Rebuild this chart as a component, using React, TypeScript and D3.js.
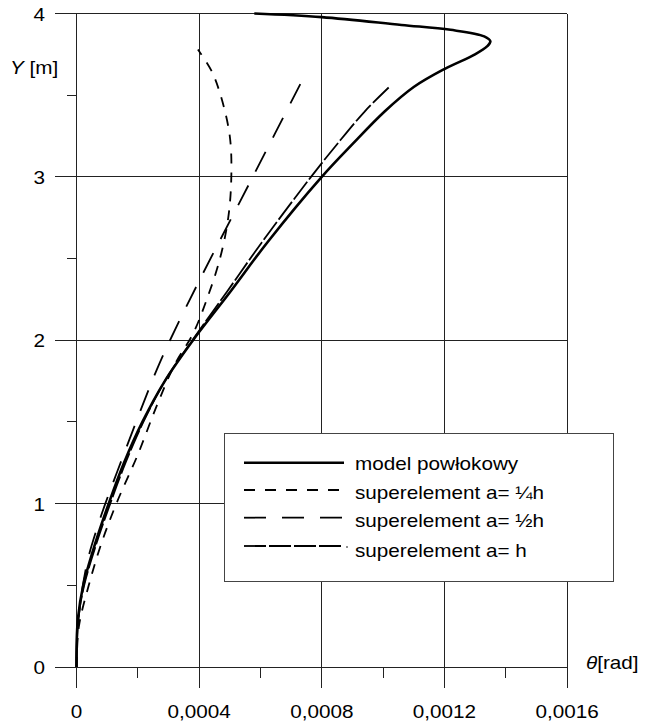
import React from 'react';
import * as d3 from 'd3';

// rotation θ [rad] against height Y [m]
const yModel = [0, 0.15, 0.3, 0.5, 0.75, 1.0, 1.25, 1.5, 1.75, 2.0, 2.3, 2.6, 3.0, 3.2, 3.4, 3.55, 3.66, 3.75, 3.8, 3.83, 3.86, 3.9, 3.93, 3.978, 4.0];
const thModel = [0, 0.0000005, 0.000005, 0.000022, 0.00006, 0.000105, 0.000155, 0.000215, 0.000288, 0.00038, 0.000503, 0.000623, 0.0008, 0.0009, 0.001005, 0.0011, 0.0012, 0.0013, 0.00134, 0.00135, 0.00133, 0.00122, 0.00106, 0.0008, 0.00058];

const yQuarter = [0, 0.25, 0.5, 0.75, 1.0, 1.3, 1.6, 1.85, 2.04, 2.25, 2.5, 2.75, 3.0, 3.25, 3.5, 3.65, 3.78];
const thQuarter = [0, 0.000008, 0.00004, 0.00008, 0.00013, 0.0002, 0.000262, 0.00032, 0.00038, 0.000425, 0.000468, 0.000495, 0.000505, 0.0005, 0.00047, 0.00044, 0.000396];

const yHalf = [0, 0.2, 0.4, 0.65, 0.85, 1.0, 1.35, 1.6, 1.82, 2.0, 2.4, 3.0, 3.645];
const thHalf = [0, 0.000003, 0.000013, 0.000036, 0.000067, 0.000094, 0.000164, 0.000215, 0.000262, 0.000305, 0.00041, 0.000575, 0.000751];

const yFull = [0, 0.3, 0.5, 0.75, 1.0, 1.25, 1.5, 1.75, 2.0, 2.3, 2.6, 3.0, 3.2, 3.4, 3.55];
const thFull = [0, 0.000006, 0.000025, 0.000064, 0.00011, 0.00016, 0.000218, 0.000288, 0.000378, 0.000492, 0.000605, 0.000765, 0.00085, 0.00094, 0.00102];

const xTicks = [0, 0.0004, 0.0008, 0.0012, 0.0016];
const xTickLabels = ['0', '0,0004', '0,0008', '0,0012', '0,0016'];
const xMinor = [0.0002, 0.0006, 0.001, 0.0014];
const yTicks = [0, 1, 2, 3, 4];
const yMinor = [0.5, 1.5, 2.5, 3.5];

const legendLabels = ['model powłokowy', 'superelement a= ¼h', 'superelement a= ½h', 'superelement a= h'];

const FONT = 'Liberation Sans, Arial, sans-serif';
const SX = 1.15; // the source text is a little wider than Arial

const App = () => {
  const width = 650;
  const height = 723;

  const x = d3.scaleLinear().domain([0, 0.0016]).range([76.5, 567]);
  const y = d3.scaleLinear().domain([0, 4]).range([667, 13.5]);

  const line = d3
    .line<[number, number]>()
    .x((d) => x(d[0]))
    .y((d) => y(d[1]))
    .curve(d3.curveCatmullRom.alpha(0.5));

  const series = [
    { th: thModel, ys: yModel, dash: null, w: 2.6 },
    { th: thQuarter, ys: yQuarter, dash: '10,9', w: 1.8 },
    { th: thHalf, ys: yHalf, dash: '22,16', w: 1.8 },
    { th: thFull, ys: yFull, dash: '22,3', w: 1.8 },
  ];

  const legendLineY = [462.7, 490, 517.7, 546];
  const legendTextY = [470, 498.5, 526.5, 556.5];

  const txt = (s: string, tx: number, ty: number, anchor: string, key?: string) => (
    <text
      key={key}
      transform={`translate(${tx},${ty}) scale(${SX},1)`}
      textAnchor={anchor}
      fontFamily={FONT}
      fontSize={18}
      fill="#000"
    >
      {s}
    </text>
  );

  return (
    <svg width={width} height={height} style={{ position: 'absolute', left: 0, top: 0, background: '#fff' }}>
      <g shapeRendering="crispEdges" stroke="#222" strokeWidth={1}>
        {/* vertical grid + major x ticks */}
        {xTicks.map((t) => (
          <line key={'vx' + t} x1={x(t)} x2={x(t)} y1={y(4)} y2={688} />
        ))}
        {/* horizontal grid + major y ticks */}
        {yTicks.map((t) => (
          <line key={'hy' + t} x1={55} x2={x(0.0016)} y1={y(t)} y2={y(t)} />
        ))}
        {xMinor.map((t) => (
          <line key={'mx' + t} x1={x(t)} x2={x(t)} y1={y(0)} y2={678} />
        ))}
        {yMinor.map((t) => (
          <line key={'my' + t} x1={67} x2={x(0)} y1={y(t)} y2={y(t)} />
        ))}
      </g>

      {series.map((s, i) => (
        <path
          key={'s' + i}
          d={line(s.th.map((v, j) => [v, s.ys[j]] as [number, number])) || ''}
          fill="none"
          stroke="#000"
          strokeWidth={s.w}
          strokeDasharray={s.dash || undefined}
          strokeLinejoin="round"
        />
      ))}

      {/* legend */}
      <rect x={224} y={433.5} width={389} height={148} fill="#fff" stroke="#444" strokeWidth={1} shapeRendering="crispEdges" />
      {series.map((s, i) => (
        <g key={'lg' + i}>
          <line
            x1={244}
            x2={344}
            y1={legendLineY[i]}
            y2={legendLineY[i]}
            stroke="#000"
            strokeWidth={s.w}
            strokeDasharray={i === 1 ? '11,10' : s.dash || undefined}
          />
          {i === 3 && <circle cx={347} cy={legendLineY[i] + 1} r={0.8} fill="#000" />}
          {txt(legendLabels[i], 355, legendTextY[i], 'start')}
        </g>
      ))}

      {/* tick labels */}
      {yTicks.map((t) => txt(String(t), 45, y(t) + 7, 'end', 'yl' + t))}
      {xTicks.map((t, i) => txt(xTickLabels[i], x(t), 717.5, 'middle', 'xl' + t))}

      {/* axis titles */}
      <text transform={`translate(10,74) scale(${SX},1)`} fontFamily={FONT} fontSize={18}>
        <tspan fontStyle="italic">Y</tspan>
        <tspan> [m]</tspan>
      </text>
      <text transform={`translate(586,669) scale(${SX},1)`} fontFamily={FONT} fontSize={18}>
        <tspan fontStyle="italic">θ</tspan>
        <tspan>[rad]</tspan>
      </text>
    </svg>
  );
};

export default App;
